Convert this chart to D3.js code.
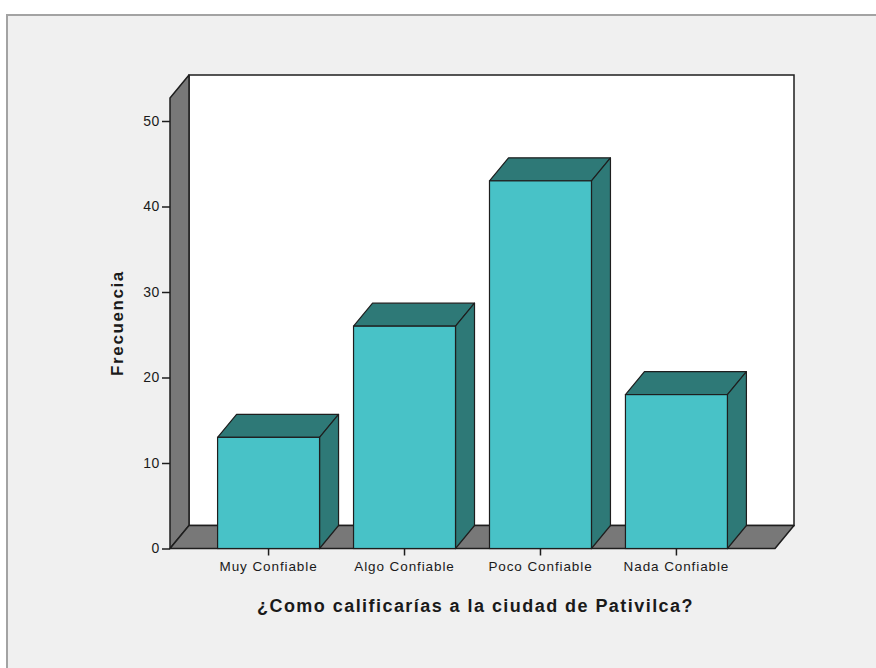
<!DOCTYPE html>
<html>
<head>
<meta charset="utf-8">
<script src="https://cdn.jsdelivr.net/npm/d3@7/dist/d3.min.js"></script>
<style>
  html, body { margin: 0; padding: 0; background: #ffffff; }
  svg { display: block; }
  text { font-family: "Liberation Sans", Arial, sans-serif; fill: #1a1a1a; }
</style>
</head>
<body>
<svg id="chart" width="876" height="668"></svg>
<script>
// Frequency of answers per rating
const categories = ["Muy Confiable", "Algo Confiable", "Poco Confiable", "Nada Confiable"];
const frequencies = [13, 26, 43, 18];
const yTicks = [0, 10, 20, 30, 40, 50];
const xTitle = "¿Como calificarías a la ciudad de Pativilca?";
const yTitle = "Frecuencia";

const svg = d3.select("#chart");

// Layout of the 3D box (front plane + depth offset)
const front = { left: 170, right: 775, bottom: 548.5, top: 98 };
const depth = { dx: 19, dy: 23 };

const colors = {
  panel: "#f0f0f0",
  frame: "#a3a3a3",
  wall: "#787878",
  back: "#ffffff",
  face: "#48c2c7",
  shade: "#2e7977",
  stroke: "#1e1e1e"
};

const x = d3.scaleBand()
  .domain(categories)
  .range([front.left, front.right])
  .paddingInner(0.25)
  .paddingOuter(0.35);

const y = d3.scaleLinear()
  .domain([0, 50])
  .range([front.bottom, 121]);

// Outer panel
svg.append("rect")
  .attr("x", 7).attr("y", 15)
  .attr("width", 900).attr("height", 700)
  .attr("fill", colors.panel)
  .attr("stroke", colors.frame)
  .attr("stroke-width", 2);

const poly = pts => "M" + pts.map(p => p.join(",")).join("L") + "Z";

// Back wall
svg.append("rect")
  .attr("x", front.left + depth.dx)
  .attr("y", front.top - depth.dy)
  .attr("width", front.right - front.left)
  .attr("height", front.bottom - front.top)
  .attr("fill", colors.back)
  .attr("stroke", colors.stroke)
  .attr("stroke-width", 1.5);

// Left wall
svg.append("path")
  .attr("d", poly([
    [front.left, front.top],
    [front.left + depth.dx, front.top - depth.dy],
    [front.left + depth.dx, front.bottom - depth.dy],
    [front.left, front.bottom]
  ]))
  .attr("fill", colors.wall)
  .attr("stroke", colors.stroke)
  .attr("stroke-width", 1.5)
  .attr("stroke-linejoin", "round");

// Floor
svg.append("path")
  .attr("d", poly([
    [front.left, front.bottom],
    [front.left + depth.dx, front.bottom - depth.dy],
    [front.right + depth.dx, front.bottom - depth.dy],
    [front.right, front.bottom]
  ]))
  .attr("fill", colors.wall)
  .attr("stroke", colors.stroke)
  .attr("stroke-width", 1.5)
  .attr("stroke-linejoin", "round");

// Bars
const data = categories.map((c, i) => ({ cat: c, value: frequencies[i] }));
const w = x.bandwidth();
const bars = svg.append("g").selectAll("g").data(data).join("g");

bars.append("path")
  .attr("d", d => {
    const x0 = x(d.cat), yv = y(d.value);
    return poly([[x0, yv], [x0 + depth.dx, yv - depth.dy], [x0 + w + depth.dx, yv - depth.dy], [x0 + w, yv]]);
  })
  .attr("fill", colors.shade)
  .attr("stroke", colors.stroke)
  .attr("stroke-width", 1.2)
  .attr("stroke-linejoin", "round");

bars.append("path")
  .attr("d", d => {
    const x1 = x(d.cat) + w, yv = y(d.value), y0 = y(0);
    return poly([[x1, yv], [x1 + depth.dx, yv - depth.dy], [x1 + depth.dx, y0 - depth.dy], [x1, y0]]);
  })
  .attr("fill", colors.shade)
  .attr("stroke", colors.stroke)
  .attr("stroke-width", 1.2)
  .attr("stroke-linejoin", "round");

bars.append("rect")
  .attr("x", d => x(d.cat))
  .attr("y", d => y(d.value))
  .attr("width", w)
  .attr("height", d => y(0) - y(d.value))
  .attr("fill", colors.face)
  .attr("stroke", colors.stroke)
  .attr("stroke-width", 1.2);

// Y axis
const yAxis = d3.axisLeft(y).tickValues(yTicks).tickSize(8).tickSizeOuter(0).tickPadding(2);
const gy = svg.append("g")
  .attr("transform", `translate(${front.left},0)`)
  .call(yAxis);
gy.select(".domain").remove();
gy.selectAll(".tick line").attr("stroke", colors.stroke).attr("stroke-width", 1.5);
gy.selectAll(".tick text")
  .attr("font-size", 14)
  .attr("letter-spacing", 0.6)
  .attr("fill", "#1a1a1a")
  .attr("font-family", "'Liberation Sans', Arial, sans-serif");

// X axis
const xAxis = d3.axisBottom(x).tickSize(7).tickSizeOuter(0).tickPadding(6);
const gx = svg.append("g")
  .attr("transform", `translate(0,${front.bottom})`)
  .call(xAxis);
gx.select(".domain").remove();
gx.selectAll(".tick line").attr("stroke", colors.stroke).attr("stroke-width", 1.5);
gx.selectAll(".tick text")
  .attr("font-size", 13.5)
  .attr("letter-spacing", 0.9)
  .attr("fill", "#1a1a1a")
  .attr("font-family", "'Liberation Sans', Arial, sans-serif");

// Axis titles
svg.append("text")
  .attr("x", (front.left + front.right) / 2 + 3)
  .attr("y", 612)
  .attr("text-anchor", "middle")
  .attr("font-size", 18)
  .attr("font-weight", "bold")
  .attr("letter-spacing", 1.45)
  .text(xTitle);

svg.append("text")
  .attr("transform", "translate(123,323) rotate(-90)")
  .attr("text-anchor", "middle")
  .attr("font-size", 17)
  .attr("font-weight", "bold")
  .attr("letter-spacing", 1.6)
  .text(yTitle);
</script>
</body>
</html>
